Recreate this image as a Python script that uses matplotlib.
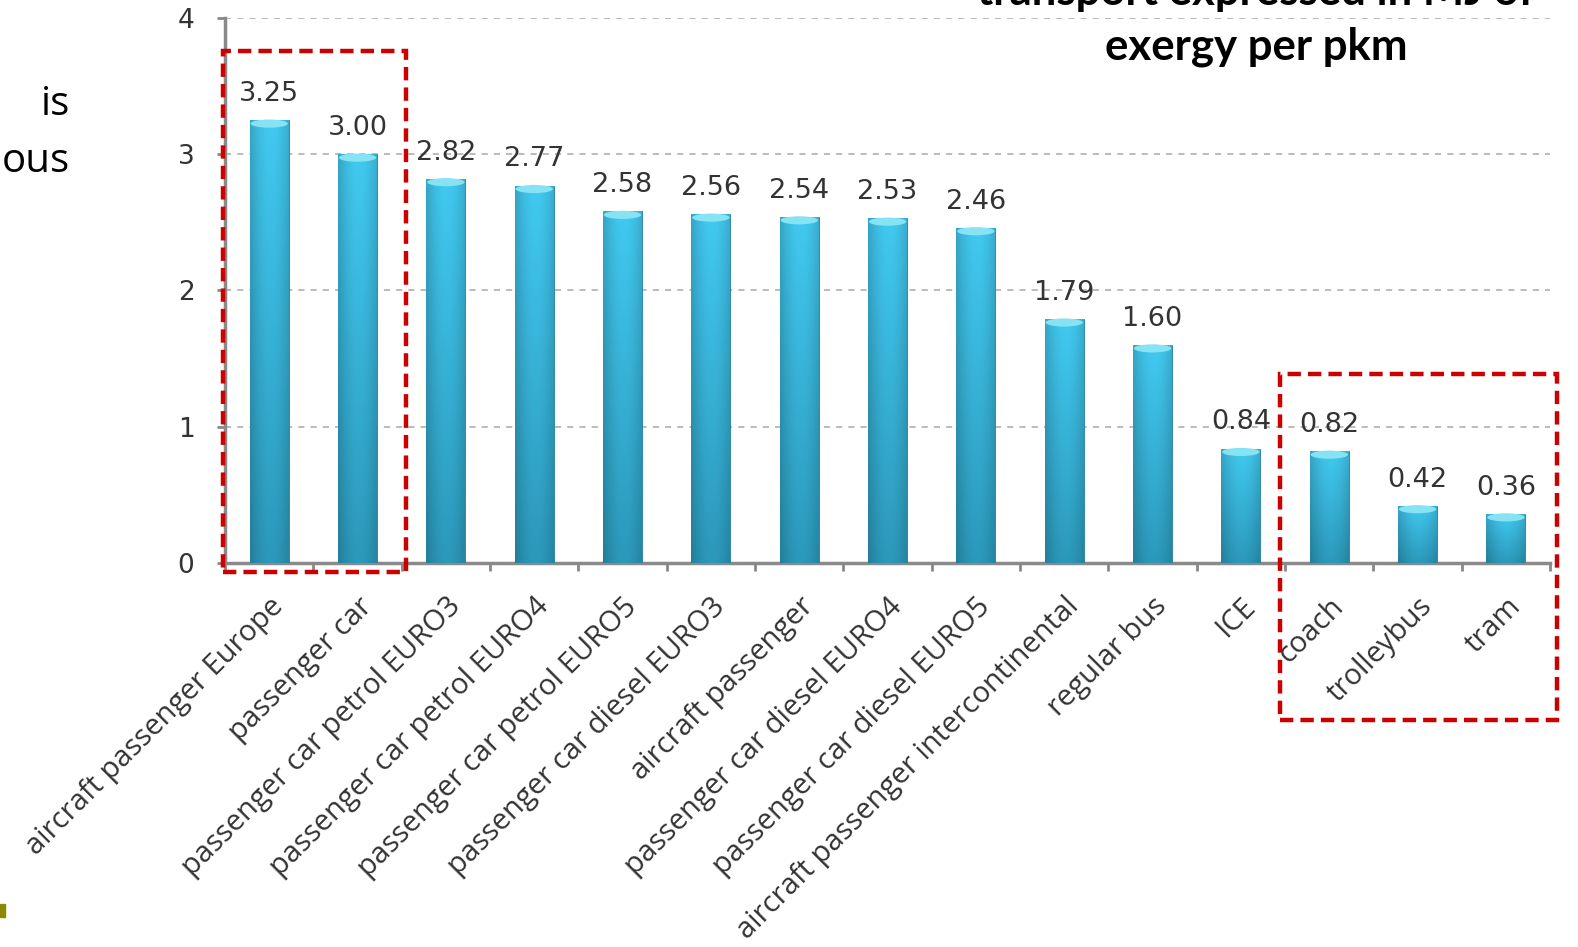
import matplotlib.pyplot as plt
import numpy as np
from matplotlib.patches import Rectangle, Ellipse
from matplotlib.colors import to_rgb

# exergy use per passenger-km, MJ
modes = ['aircraft passenger Europe', 'passenger car', 'passenger car petrol EURO3',
         'passenger car petrol EURO4', 'passenger car petrol EURO5',
         'passenger car diesel EURO3', 'aircraft passenger', 'passenger car diesel EURO4',
         'passenger car diesel EURO5', 'aircraft passenger intercontinental',
         'regular bus', 'ICE', 'coach', 'trolleybus', 'tram']
exergy = [3.25, 3.00, 2.82, 2.77, 2.58, 2.56, 2.54, 2.53, 2.46, 1.79, 1.60, 0.84, 0.82, 0.42, 0.36]
y_ticks = [0, 1, 2, 3, 4]

fig = plt.figure(figsize=(15.78, 9.47), dpi=100)
ax = fig.add_axes([0.1426, 0.4055, 0.8397, 0.5755])

x = np.arange(len(modes))
bar_w = 0.44
bars = ax.bar(x, exergy, width=bar_w, color='#33ACD4', edgecolor='#1F7FA0', lw=0.6, zorder=3)

# cylinder shading: darker toward the bottom, darker at the sides
top_c = np.array(to_rgb('#3EBEE3'))
bot_c = np.array(to_rgb('#2990B0'))
vert = np.linspace(0, 1, 80)[:, None, None]
base = bot_c + (top_c - bot_c) * vert
horiz = 0.84 + 0.22 * np.sin(np.linspace(0.15, np.pi - 0.35, 40))[None, :, None]
img = np.clip(base * horiz, 0, 1)

for b, v in zip(bars, exergy):
    x0 = b.get_x()
    im = ax.imshow(img, aspect='auto', origin='lower', extent=(x0, x0 + bar_w, 0, v),
                   zorder=3.5, interpolation='bilinear')
    im.set_clip_path(b)
    ax.add_patch(Ellipse((x0 + bar_w / 2, v - 0.025), bar_w * 0.96, 0.06,
                         color='#86E3F3', zorder=4, lw=0))
    ax.annotate('{:.2f}'.format(v), (x0 + bar_w / 2, v), xytext=(0, 9.5),
                textcoords='offset points', ha='center', va='bottom',
                fontsize=19.5, color='#333333', zorder=5)

ax.set_xlim(-0.5, len(modes) - 0.5)
ax.set_ylim(0, 4)
ax.set_yticks(y_ticks)
ax.set_yticklabels([str(t) for t in y_ticks])
ax.yaxis.grid(True, ls=(0, (4, 4)), color='#A8A8A8', lw=1.1, zorder=1)
ax.set_axisbelow(True)

ax.set_xticks(x)
ax.set_xticklabels(modes, rotation=45, ha='right', rotation_mode='anchor',
                   fontsize=21, color='#333333', family='Open Sans')
ax.set_xticks(np.arange(len(modes) + 1) - 0.5, minor=True)
ax.tick_params(axis='x', which='major', length=0, pad=21)
ax.tick_params(axis='x', which='minor', length=6, width=2, color='#888888')
ax.tick_params(axis='y', length=6, width=2, color='#888888', pad=16,
               labelsize=19, labelcolor='#333333')

for side in ['top', 'right']:
    ax.spines[side].set_visible(False)
for side in ['left', 'bottom']:
    ax.spines[side].set_color('#8A8A8A')
    ax.spines[side].set_linewidth(2.5)

# highlight boxes
W, H = 1578, 947
def box(l, t, r, b):
    fig.patches.append(Rectangle((l / W, 1 - b / H), (r - l) / W, (b - t) / H,
                                 transform=fig.transFigure, fill=False,
                                 ec='#CC0000', lw=3.2, ls=(0, (3, 1.6)), zorder=10))
box(223, 51, 406, 572)
box(1280, 374, 1557, 720)

# slide text around the chart
fig.text(1256 / W, 1 - -8 / H, 'transport expressed in MJ of',
         ha='center', va='center', fontsize=31.5, fontweight='bold', family='Lato')
fig.text(1256 / W, 1 - 47 / H, 'exergy per pkm',
         ha='center', va='center', fontsize=31.5, fontweight='bold', family='Lato')
fig.text(70 / W, 1 - 105 / H, 'is', ha='right', va='center', fontsize=29, family='Open Sans')
fig.text(70 / W, 1 - 162 / H, 'ous', ha='right', va='center', fontsize=29, family='Open Sans')
fig.patches.append(Rectangle((0, 1 - 917 / H), 5 / W, 13 / H, transform=fig.transFigure,
                             color='#8A8A00'))

fig.savefig('out.png', dpi=100)
